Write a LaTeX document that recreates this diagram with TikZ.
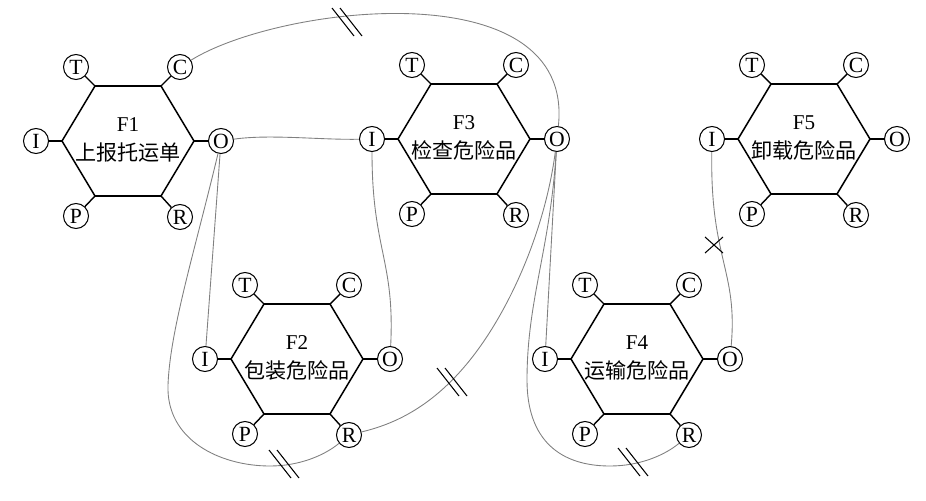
\documentclass[tikz,border=0pt]{standalone}
\usepackage{fontspec}
\setmainfont{Liberation Serif}
\newfontfamily\cjk{Noto Sans CJK SC}
\definecolor{linkgray}{RGB}{128,128,128}
\tikzset{
  x=0.03cm, y=-0.03cm,
  hexline/.style={draw=black, line width=1.3pt, line join=miter},
  stub/.style={draw=black, line width=1.2pt},
  aspect/.style={circle, draw=black, line width=0.9pt, minimum size=0.75cm, inner sep=0pt, font=\fontsize{18.5}{20}\selectfont},
  fnlabel/.style={align=center, inner sep=0pt, font=\fontsize{18}{25}\selectfont},
  link/.style={draw=linkgray, line width=0.75pt},
  marker/.style={draw=black, line width=0.9pt},
  brkmark/.pic={\draw[marker] (-15,-14) -- (7,14); \draw[marker] (-7,-14) -- (15,14);},
  crossmark/.pic={\draw[marker] (-9,-8) -- (9,8); \draw[marker] (-9,8) -- (9,-8);}
}
\newcommand\framfn[4]{%
\begin{scope}[shift={(#2,#3)}]
\draw[hexline] (-66,0) coordinate (#1-vI) -- (-33,-55) coordinate (#1-vT) -- (33,-55) coordinate (#1-vC) -- (66,0) coordinate (#1-vO) -- (33,55) coordinate (#1-vR) -- (-33,55) coordinate (#1-vP) -- cycle;
\node[aspect] (#1-I) at (-92,0) {I};
\node[aspect] (#1-O) at (93,0) {O};
\node[aspect] (#1-T) at (-52,-74) {T};
\node[aspect] (#1-C) at (52,-74) {C};
\node[aspect] (#1-P) at (-52,75) {P};
\node[aspect] (#1-R) at (52,76) {R};
\foreach \a in {I,O,T,C,P,R} {\draw[stub] (#1-v\a) -- (#1-\a);}
\node[fnlabel] (#1) at (0,-1) {#4};
\end{scope}}
\begin{document}
\begin{tikzpicture}
\useasboundingbox (0,0) rectangle (926,500);
\framfn{F1}{128}{141}{F1\\{\cjk 上报托运单}}
\framfn{F2}{297}{359}{F2\\{\cjk 包装危险品}}
\framfn{F3}{464}{139}{F3\\{\cjk 检查危险品}}
\framfn{F4}{637}{359}{F4\\{\cjk 运输危险品}}
\framfn{F5}{804}{139}{F5\\{\cjk 卸载危险品}}
% connectors
\draw[link] (F1-C) .. controls (280,5) and (575,-30) .. (F3-O);
\draw[link] (F1-O) .. controls (270,134) and (320,140) .. (F3-I);
\draw[link] (F1-O) -- (F2-I);
\draw[link] (F1-O) .. controls (195,250) and (170,330) .. (168,385)
  .. controls (166,440) and (220,466) .. (270,466)
  .. controls (300,466) and (325,455) .. (F2-R);
\draw[link] (F2-R) .. controls (390,425) and (430,410) .. (470,360)
  .. controls (510,310) and (545,230) .. (F3-O);
\draw[link] (F3-I) .. controls (372,250) and (395,260) .. (F2-O);
\draw[link] (F3-O) -- (F4-I);
\draw[link] (F3-O) .. controls (550,250) and (527,300) .. (527,380)
  .. controls (527,440) and (560,466) .. (610,466)
  .. controls (640,466) and (665,455) .. (F4-R);
\draw[link] (F5-I) .. controls (710,260) and (738,270) .. (F4-O);
% marks
\pic at (347,22) {brkmark};
\pic at (284,464) {brkmark};
\pic at (452,382) {brkmark};
\pic at (633,462) {brkmark};
\pic at (714,245) {crossmark};
\end{tikzpicture}
\end{document}
